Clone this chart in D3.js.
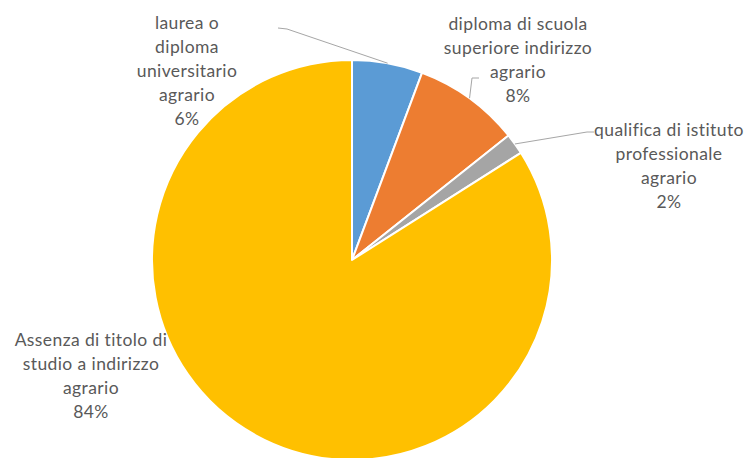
<!DOCTYPE html>
<html>
<head>
<meta charset="utf-8">
<script src="https://cdn.jsdelivr.net/npm/d3@7"></script>
<style>
html,body{margin:0;padding:0;background:#fff;}
svg{display:block;}
</style>
</head>
<body>
<svg id="chart" width="755" height="458"></svg>
<script>
// Data
const categories = [
  ["laurea o", "diploma", "universitario", "agrario"],
  ["diploma di scuola", "superiore indirizzo", "agrario"],
  ["qualifica di istituto", "professionale", "agrario"],
  ["Assenza di titolo di", "studio a indirizzo", "agrario"]
];
const values = [5.7, 8.6, 1.7, 84.0];
const percentLabels = ["6%", "8%", "2%", "84%"];
const colors = ["#5B9BD5", "#ED7D31", "#A5A5A5", "#FFC000"];

// Layout (label anchor centers, first baseline) and leader elbows
const labelLayout = [
  {x: 187, y: 29, leader: [[287, 29], [278, 28]]},
  {x: 518, y: 30, leader: [[472, 78], [479, 78]]},
  {x: 669, y: 136, leader: [[587, 132], [594, 132]]},
  {x: 91, y: 346, leader: null}
];

const svg = d3.select("#chart");
const cx = 352, cy = 260, R = 200;
const g = svg.append("g").attr("transform", `translate(${cx},${cy})`);

const pie = d3.pie().value(d => d).sort(null);
const arcs = pie(values);
const arc = d3.arc().innerRadius(0).outerRadius(R);

g.selectAll("path.slice")
  .data(arcs)
  .enter().append("path")
  .attr("class", "slice")
  .attr("d", arc)
  .attr("fill", (d, i) => colors[i])
  .attr("stroke", "#fff")
  .attr("stroke-width", 2)
  .attr("stroke-linejoin", "round");

// Leader lines
arcs.forEach((d, i) => {
  const L = labelLayout[i];
  if (!L.leader) return;
  const a = (d.startAngle + d.endAngle) / 2;
  const p0 = [cx + R * Math.sin(a), cy - R * Math.cos(a)];
  const pts = [p0].concat(L.leader);
  svg.append("path")
    .attr("d", d3.line()(pts))
    .attr("fill", "none")
    .attr("stroke", "#A6A6A6")
    .attr("stroke-width", 1);
});

// Labels
const lineH = 24;
categories.forEach((lines, i) => {
  const L = labelLayout[i];
  const t = svg.append("text")
    .attr("text-anchor", "middle")
    .attr("font-family", "Lato, 'Open Sans', sans-serif")
    .attr("font-size", 17.5)
    .attr("letter-spacing", 0.4)
    .attr("fill", "#595959");
  lines.concat([percentLabels[i]]).forEach((s, k) => {
    t.append("tspan").attr("x", L.x).attr("y", L.y + k * lineH).text(s);
  });
});
</script>
</body>
</html>
